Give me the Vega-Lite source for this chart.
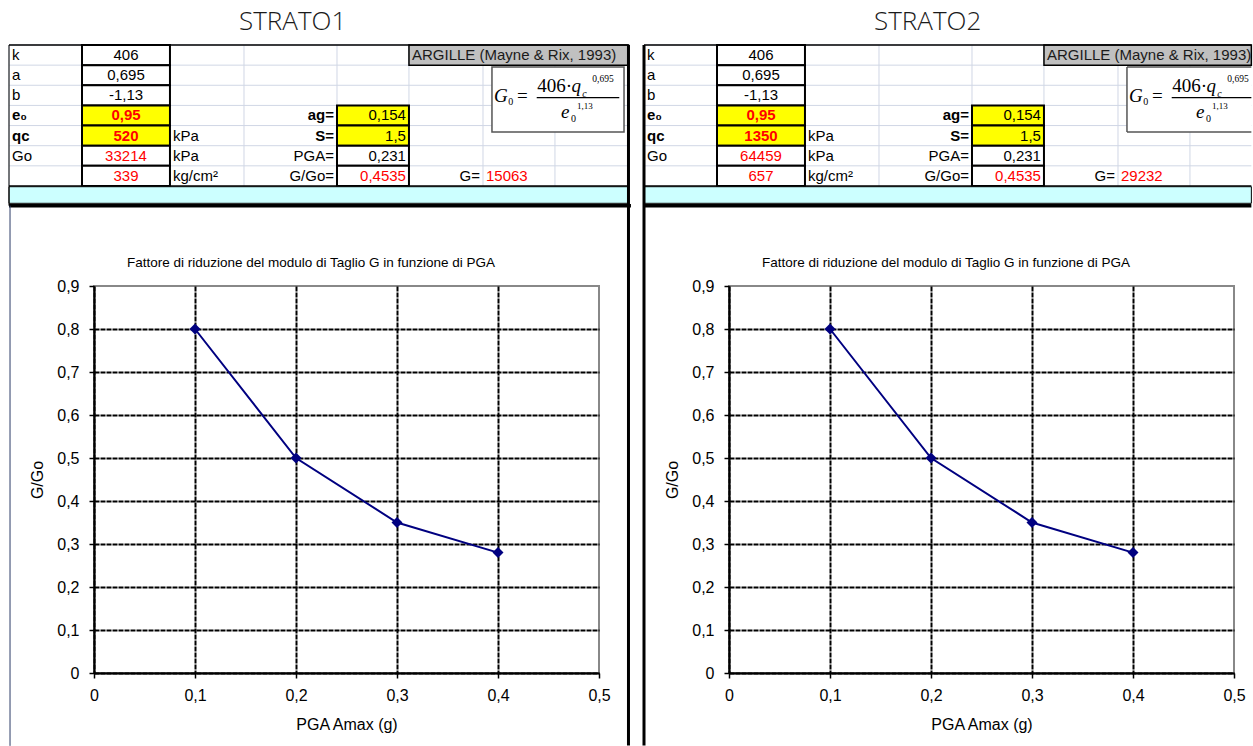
{
"$schema": "https://vega.github.io/schema/vega-lite/v6.json",
"padding": 0,
"background": "white",
"bounds": "flush",
"spacing": 130,
"datasets": {
"columns": [
{"col":"A","start":0,"mid":0.5,"end":1},
{"col":"B","start":1,"mid":1.6025,"end":2.205},
{"col":"C","start":2.205,"mid":2.712,"end":3.219},
{"col":"D","start":3.219,"mid":3.856,"end":4.493},
{"col":"E","start":4.493,"mid":4.986,"end":5.479},
{"col":"F","start":5.479,"mid":5.986,"end":6.493},
{"col":"G","start":6.493,"mid":6.986,"end":7.479},
{"col":"H","start":7.479,"mid":7.986,"end":8.493}
],
"rows": [
{"row":1,"top":0.5,"bottom":1.5},{"row":2,"top":1.5,"bottom":2.5},{"row":3,"top":2.5,"bottom":3.5},{"row":4,"top":3.5,"bottom":4.5},{"row":5,"top":4.5,"bottom":5.5},{"row":6,"top":5.5,"bottom":6.5},{"row":7,"top":6.5,"bottom":7.5}
],
"cells1": [
{"row":1,"col":"A","text":"k","kind":"label"},
{"row":1,"col":"B","text":"406","kind":"param"},
{"row":2,"col":"A","text":"a","kind":"label"},
{"row":2,"col":"B","text":"0,695","kind":"param"},
{"row":3,"col":"A","text":"b","kind":"label"},
{"row":3,"col":"B","text":"-1,13","kind":"param"},
{"row":4,"col":"A","text":"e₀","kind":"labelBold"},
{"row":4,"col":"B","text":"0,95","kind":"input"},
{"row":4,"col":"D","text":"ag=","kind":"eqBold"},
{"row":4,"col":"E","text":"0,154","kind":"inputR"},
{"row":5,"col":"A","text":"qc","kind":"labelBold"},
{"row":5,"col":"B","text":"520","kind":"input"},
{"row":5,"col":"C","text":"kPa","kind":"label"},
{"row":5,"col":"D","text":"S=","kind":"eqBold"},
{"row":5,"col":"E","text":"1,5","kind":"inputR"},
{"row":6,"col":"A","text":"Go","kind":"label"},
{"row":6,"col":"B","text":"33214","kind":"result"},
{"row":6,"col":"C","text":"kPa","kind":"label"},
{"row":6,"col":"D","text":"PGA=","kind":"eq"},
{"row":6,"col":"E","text":"0,231","kind":"valueR"},
{"row":7,"col":"B","text":"339","kind":"result"},
{"row":7,"col":"C","text":"kg/cm²","kind":"label"},
{"row":7,"col":"D","text":"G/Go=","kind":"eq"},
{"row":7,"col":"E","text":"0,4535","kind":"resultR"},
{"row":7,"col":"F","text":"G=","kind":"eq"},
{"row":7,"col":"G","text":"15063","kind":"resultL"}
],
"cells2": [
{"row":1,"col":"A","text":"k","kind":"label"},
{"row":1,"col":"B","text":"406","kind":"param"},
{"row":2,"col":"A","text":"a","kind":"label"},
{"row":2,"col":"B","text":"0,695","kind":"param"},
{"row":3,"col":"A","text":"b","kind":"label"},
{"row":3,"col":"B","text":"-1,13","kind":"param"},
{"row":4,"col":"A","text":"e₀","kind":"labelBold"},
{"row":4,"col":"B","text":"0,95","kind":"input"},
{"row":4,"col":"D","text":"ag=","kind":"eqBold"},
{"row":4,"col":"E","text":"0,154","kind":"inputR"},
{"row":5,"col":"A","text":"qc","kind":"labelBold"},
{"row":5,"col":"B","text":"1350","kind":"input"},
{"row":5,"col":"C","text":"kPa","kind":"label"},
{"row":5,"col":"D","text":"S=","kind":"eqBold"},
{"row":5,"col":"E","text":"1,5","kind":"inputR"},
{"row":6,"col":"A","text":"Go","kind":"label"},
{"row":6,"col":"B","text":"64459","kind":"result"},
{"row":6,"col":"C","text":"kPa","kind":"label"},
{"row":6,"col":"D","text":"PGA=","kind":"eq"},
{"row":6,"col":"E","text":"0,231","kind":"valueR"},
{"row":7,"col":"B","text":"657","kind":"result"},
{"row":7,"col":"C","text":"kg/cm²","kind":"label"},
{"row":7,"col":"D","text":"G/Go=","kind":"eq"},
{"row":7,"col":"E","text":"0,4535","kind":"resultR"},
{"row":7,"col":"F","text":"G=","kind":"eq"},
{"row":7,"col":"G","text":"29232","kind":"resultL"}
],
"curve": [
{"strato":"STRATO1","pga":0.1,"gg0":0.8},
{"strato":"STRATO1","pga":0.2,"gg0":0.5},
{"strato":"STRATO1","pga":0.3,"gg0":0.35},
{"strato":"STRATO1","pga":0.4,"gg0":0.28},
{"strato":"STRATO2","pga":0.1,"gg0":0.8},
{"strato":"STRATO2","pga":0.2,"gg0":0.5},
{"strato":"STRATO2","pga":0.3,"gg0":0.35},
{"strato":"STRATO2","pga":0.4,"gg0":0.28}
]
},
"hconcat": [
{
"width": 505,
"height": 387,
"resolve": {"scale": {"x": "independent", "y": "independent"}},
"layer": [
{
"data": {"name": "curve"},
"transform": [{"filter": {"field": "strato", "equal": "STRATO1"}}],
"layer": [
{"mark": {"type": "line", "color": "#000080", "strokeWidth": 2},
"encoding": {
"x": {"field": "pga", "type": "quantitative", "scale": {"domain": [0, 0.5], "nice": false, "zero": false},
"axis": {"orient": "bottom", "values": [0, 0.1, 0.2, 0.3, 0.4, 0.5], "format": ".1~f", "title": "PGA Amax (g)", "labelPadding": 9, "titlePadding": 13,
"gridColor": {"condition": {"test": "datum.value > 0.45", "value": "transparent"}, "value": "#000000"}}},
"y": {"field": "gg0", "type": "quantitative", "scale": {"domain": [0, 0.9], "nice": false, "zero": false},
"axis": {"orient": "left", "values": [0, 0.1, 0.2, 0.3, 0.4, 0.5, 0.6, 0.7, 0.8, 0.9], "format": ".1~f", "title": "G/Go", "labelPadding": 10, "titlePadding": 11,
"gridColor": {"condition": {"test": "datum.value > 0.85", "value": "transparent"}, "value": "#000000"}}}}},
{"mark": {"type": "point", "shape": "diamond", "filled": true, "color": "#000080", "size": 120, "opacity": 1},
"encoding": {"x": {"field": "pga", "type": "quantitative"}, "y": {"field": "gg0", "type": "quantitative"}}}
]
},
{
"data": {"values": [{}]},
"layer": [
{"data": {"name": "columns"}, "mark": {"type": "rule", "color": "#d0d7e5", "strokeWidth": 1, "clip": false},
"encoding": {"x": {"field": "start", "type": "quantitative", "axis": null, "scale": {"domain": [1.16438, 8.08219], "nice": false, "zero": false}},
"y": {"datum": 0.5, "type": "quantitative", "axis": null, "scale": {"domain": [12.4662, 31.6817], "nice": false, "zero": false, "reverse": true}},
"y2": {"datum": 7.5}}},
{"data": {"name": "rows"}, "mark": {"type": "rule", "color": "#d0d7e5", "strokeWidth": 1, "clip": false},
"encoding": {"y": {"field": "top", "type": "quantitative", "axis": null}, "x": {"datum": 0, "type": "quantitative", "axis": null}, "x2": {"datum": 8.486}}},
{"mark": {"type": "rect", "fill": "#c0c0c0", "stroke": "#000000", "strokeWidth": 1.5, "clip": false},
"encoding": {"x": {"datum": 5.479, "type": "quantitative", "axis": null}, "x2": {"datum": 8.486}, "y": {"datum": 0.5, "type": "quantitative", "axis": null}, "y2": {"datum": 1.5}}},
{"data": {"name": "cells1"},
"transform": [{"filter": {"field": "kind", "oneOf": ["param", "input", "result", "inputR", "valueR", "resultR"]}},
{"lookup": "col", "from": {"data": {"name": "columns"}, "key": "col", "fields": ["start", "end"]}},
{"lookup": "row", "from": {"data": {"name": "rows"}, "key": "row", "fields": ["top", "bottom"]}}],
"mark": {"type": "rect", "stroke": "#000000", "strokeWidth": 2, "clip": false},
"encoding": {"x": {"field": "start", "type": "quantitative", "axis": null}, "x2": {"field": "end"},
"y": {"field": "top", "type": "quantitative", "axis": null}, "y2": {"field": "bottom"},
"fill": {"field": "kind", "type": "nominal", "legend": null, "scale": {"domain": ["param", "input", "result", "inputR", "valueR", "resultR"], "range": ["#ffffff", "#ffff00", "#ffffff", "#ffff00", "#ffffff", "#ffffff"]}}}},
{"mark": {"type": "rect", "fill": "#ffffff", "stroke": "#555555", "strokeWidth": 1.5, "clip": false},
"encoding": {"x": {"datum": 6.616, "type": "quantitative", "axis": null}, "x2": {"datum": 8.425}, "y": {"datum": 1.592, "type": "quantitative", "axis": null}, "y2": {"datum": 4.82}}},
{"mark": {"type": "rule", "color": "#000000", "strokeWidth": 1.5, "clip": false},
"encoding": {"y": {"datum": 0.5, "type": "quantitative", "axis": null}, "x": {"datum": 0, "type": "quantitative", "axis": null}, "x2": {"datum": 8.486}}},
{"mark": {"type": "rule", "color": "#000000", "strokeWidth": 1.5, "clip": false},
"encoding": {"y": {"datum": 7.5, "type": "quantitative", "axis": null}, "x": {"datum": 0, "type": "quantitative", "axis": null}, "x2": {"datum": 8.486}}},
{"mark": {"type": "rect", "fill": "#ccffff", "stroke": "#000000", "strokeWidth": 1, "clip": false},
"encoding": {"x": {"datum": 0, "type": "quantitative", "axis": null}, "x2": {"datum": 8.486}, "y": {"datum": 7.536, "type": "quantitative", "axis": null}, "y2": {"datum": 8.36}}},
{"mark": {"type": "rule", "color": "#000000", "strokeWidth": 3.5, "clip": false},
"encoding": {"y": {"datum": 8.479, "type": "quantitative", "axis": null}, "x": {"datum": 0, "type": "quantitative", "axis": null}, "x2": {"datum": 8.52}}},
{"mark": {"type": "rule", "color": "#000000", "strokeWidth": 3, "clip": false},
"encoding": {"x": {"datum": 8.486, "type": "quantitative", "axis": null}, "y": {"datum": 0.5, "type": "quantitative", "axis": null}, "y2": {"datum": 35.28}}},
{"mark": {"type": "rule", "color": "#000000", "strokeWidth": 1, "clip": false},
"encoding": {"x": {"datum": 0, "type": "quantitative", "axis": null}, "y": {"datum": 0.5, "type": "quantitative", "axis": null}, "y2": {"datum": 8.479}}},
{"mark": {"type": "rule", "color": "#2b3a67", "strokeWidth": 1, "clip": false},
"encoding": {"x": {"datum": 0.014, "type": "quantitative", "axis": null}, "y": {"datum": 8.479, "type": "quantitative", "axis": null}, "y2": {"datum": 35.3}}},
{"data": {"name": "cells1"},
"transform": [{"filter": {"field": "kind", "oneOf": ["label", "resultL"]}}, {"lookup": "col", "from": {"data": {"name": "columns"}, "key": "col", "fields": ["start", "mid", "end"]}}],
"mark": {"type": "text", "align": "left", "baseline": "middle", "dx": 3, "fontSize": 15, "font": "Liberation Sans", "clip": false},
"encoding": {"x": {"field": "start", "type": "quantitative", "axis": null}, "y": {"field": "row", "type": "quantitative", "axis": null}, "text": {"field": "text"},
"color": {"field": "kind", "type": "nominal", "legend": null, "scale": {"domain": ["label", "labelBold", "param", "input", "result", "eq", "eqBold", "inputR", "valueR", "resultR", "resultL"], "range": ["#000000", "#000000", "#000000", "#ff0000", "#ff0000", "#000000", "#000000", "#000000", "#000000", "#ff0000", "#ff0000"]}}}},
{"data": {"name": "cells1"},
"transform": [{"filter": {"field": "kind", "oneOf": ["labelBold"]}}, {"lookup": "col", "from": {"data": {"name": "columns"}, "key": "col", "fields": ["start", "mid", "end"]}}],
"mark": {"type": "text", "align": "left", "baseline": "middle", "dx": 3, "fontSize": 15, "fontWeight": "bold", "font": "Liberation Sans", "clip": false},
"encoding": {"x": {"field": "start", "type": "quantitative", "axis": null}, "y": {"field": "row", "type": "quantitative", "axis": null}, "text": {"field": "text"}, "color": {"field": "kind", "type": "nominal", "legend": null}}},
{"data": {"name": "cells1"},
"transform": [{"filter": {"field": "kind", "oneOf": ["param", "result"]}}, {"lookup": "col", "from": {"data": {"name": "columns"}, "key": "col", "fields": ["start", "mid", "end"]}}],
"mark": {"type": "text", "align": "center", "baseline": "middle", "fontSize": 15, "font": "Liberation Sans", "clip": false},
"encoding": {"x": {"field": "mid", "type": "quantitative", "axis": null}, "y": {"field": "row", "type": "quantitative", "axis": null}, "text": {"field": "text"}, "color": {"field": "kind", "type": "nominal", "legend": null}}},
{"data": {"name": "cells1"},
"transform": [{"filter": {"field": "kind", "oneOf": ["input"]}}, {"lookup": "col", "from": {"data": {"name": "columns"}, "key": "col", "fields": ["start", "mid", "end"]}}],
"mark": {"type": "text", "align": "center", "baseline": "middle", "fontSize": 15, "fontWeight": "bold", "font": "Liberation Sans", "clip": false},
"encoding": {"x": {"field": "mid", "type": "quantitative", "axis": null}, "y": {"field": "row", "type": "quantitative", "axis": null}, "text": {"field": "text"}, "color": {"field": "kind", "type": "nominal", "legend": null}}},
{"data": {"name": "cells1"},
"transform": [{"filter": {"field": "kind", "oneOf": ["eq", "inputR", "valueR", "resultR"]}}, {"lookup": "col", "from": {"data": {"name": "columns"}, "key": "col", "fields": ["start", "mid", "end"]}}],
"mark": {"type": "text", "align": "right", "baseline": "middle", "dx": -3, "fontSize": 15, "font": "Liberation Sans", "clip": false},
"encoding": {"x": {"field": "end", "type": "quantitative", "axis": null}, "y": {"field": "row", "type": "quantitative", "axis": null}, "text": {"field": "text"}, "color": {"field": "kind", "type": "nominal", "legend": null}}},
{"data": {"name": "cells1"},
"transform": [{"filter": {"field": "kind", "oneOf": ["eqBold"]}}, {"lookup": "col", "from": {"data": {"name": "columns"}, "key": "col", "fields": ["start", "mid", "end"]}}],
"mark": {"type": "text", "align": "right", "baseline": "middle", "dx": -3, "fontSize": 15, "fontWeight": "bold", "font": "Liberation Sans", "clip": false},
"encoding": {"x": {"field": "end", "type": "quantitative", "axis": null}, "y": {"field": "row", "type": "quantitative", "axis": null}, "text": {"field": "text"}, "color": {"field": "kind", "type": "nominal", "legend": null}}},
{"mark": {"type": "text", "align": "left", "baseline": "middle", "dx": 3, "fontSize": 15, "font": "Liberation Sans", "color": "#1a1a1a", "clip": false},
"encoding": {"x": {"datum": 5.479, "type": "quantitative", "axis": null}, "y": {"datum": 1, "type": "quantitative", "axis": null}, "text": {"value": "ARGILLE (Mayne & Rix, 1993)"}}},
{"mark": {"type": "text", "font": "Liberation Serif", "fontSize": 19, "fontStyle": "italic", "align": "left", "baseline": "alphabetic", "color": "#000000", "clip": false},
"encoding": {"x": {"datum": 6.645, "type": "quantitative", "axis": null}, "y": {"datum": 3.345, "type": "quantitative", "axis": null}, "text": {"value": "G"}}},
{"mark": {"type": "text", "font": "Liberation Serif", "fontSize": 10, "align": "left", "baseline": "alphabetic", "color": "#000000", "clip": false},
"encoding": {"x": {"datum": 6.84, "type": "quantitative", "axis": null}, "y": {"datum": 3.479, "type": "quantitative", "axis": null}, "text": {"value": "0"}}},
{"mark": {"type": "text", "font": "Liberation Serif", "fontSize": 19, "align": "left", "baseline": "alphabetic", "color": "#000000", "clip": false},
"encoding": {"x": {"datum": 6.96, "type": "quantitative", "axis": null}, "y": {"datum": 3.31, "type": "quantitative", "axis": null}, "text": {"value": "="}}},
{"mark": {"type": "text", "font": "Liberation Serif", "fontSize": 19, "align": "left", "baseline": "alphabetic", "color": "#000000", "clip": false},
"encoding": {"x": {"datum": 7.235, "type": "quantitative", "axis": null}, "y": {"datum": 2.819, "type": "quantitative", "axis": null}, "text": {"value": "406·"}}},
{"mark": {"type": "text", "font": "Liberation Serif", "fontSize": 19, "fontStyle": "italic", "align": "left", "baseline": "alphabetic", "color": "#000000", "clip": false},
"encoding": {"x": {"datum": 7.705, "type": "quantitative", "axis": null}, "y": {"datum": 2.819, "type": "quantitative", "axis": null}, "text": {"value": "q"}}},
{"mark": {"type": "text", "font": "Liberation Serif", "fontSize": 10, "fontStyle": "italic", "align": "left", "baseline": "alphabetic", "color": "#000000", "clip": false},
"encoding": {"x": {"datum": 7.852, "type": "quantitative", "axis": null}, "y": {"datum": 3.067, "type": "quantitative", "axis": null}, "text": {"value": "c"}}},
{"mark": {"type": "text", "font": "Liberation Serif", "fontSize": 9.5, "align": "left", "baseline": "alphabetic", "color": "#000000", "clip": false},
"encoding": {"x": {"datum": 7.99, "type": "quantitative", "axis": null}, "y": {"datum": 2.322, "type": "quantitative", "axis": null}, "text": {"value": "0,695"}}},
{"mark": {"type": "rule", "color": "#000000", "strokeWidth": 1.2, "clip": false},
"encoding": {"y": {"datum": 3.117, "type": "quantitative", "axis": null}, "x": {"datum": 7.229, "type": "quantitative", "axis": null}, "x2": {"datum": 8.36}}},
{"mark": {"type": "text", "font": "Liberation Serif", "fontSize": 19, "fontStyle": "italic", "align": "left", "baseline": "alphabetic", "color": "#000000", "clip": false},
"encoding": {"x": {"datum": 7.562, "type": "quantitative", "axis": null}, "y": {"datum": 4.139, "type": "quantitative", "axis": null}, "text": {"value": "e"}}},
{"mark": {"type": "text", "font": "Liberation Serif", "fontSize": 10, "align": "left", "baseline": "alphabetic", "color": "#000000", "clip": false},
"encoding": {"x": {"datum": 7.7, "type": "quantitative", "axis": null}, "y": {"datum": 4.308, "type": "quantitative", "axis": null}, "text": {"value": "0"}}},
{"mark": {"type": "text", "font": "Liberation Serif", "fontSize": 9, "align": "left", "baseline": "alphabetic", "color": "#000000", "clip": false},
"encoding": {"x": {"datum": 7.78, "type": "quantitative", "axis": null}, "y": {"datum": 3.678, "type": "quantitative", "axis": null}, "text": {"value": "1,13"}}},
{"mark": {"type": "text", "font": "Open Sans", "fontSize": 26, "fontWeight": 300, "align": "center", "baseline": "middle", "color": "#1a1a1a", "clip": false},
"encoding": {"x": {"datum": 3.885, "type": "quantitative", "axis": null}, "y": {"datum": -0.66, "type": "quantitative", "axis": null}, "text": {"value": "STRATO1"}}},
{"mark": {"type": "text", "font": "Liberation Sans", "fontSize": 13.5, "align": "center", "baseline": "middle", "color": "#000000", "clip": false},
"encoding": {"x": {"datum": 4.137, "type": "quantitative", "axis": null}, "y": {"datum": 11.32, "type": "quantitative", "axis": null}, "text": {"value": "Fattore di riduzione del modulo di Taglio G in funzione di PGA"}}},
{"mark": {"type": "rect", "opacity": 0, "clip": false},
"encoding": {"x": {"datum": -0.10959, "type": "quantitative", "axis": null}, "x2": {"datum": 8.52}, "y": {"datum": -1.6847, "type": "quantitative", "axis": null}, "y2": {"datum": 35.355}}}
]
}
]
},
{
"width": 505,
"height": 387,
"resolve": {"scale": {"x": "independent", "y": "independent"}},
"layer": [
{
"data": {"name": "curve"},
"transform": [{"filter": {"field": "strato", "equal": "STRATO2"}}],
"layer": [
{"mark": {"type": "line", "color": "#000080", "strokeWidth": 2},
"encoding": {
"x": {"field": "pga", "type": "quantitative", "scale": {"domain": [0, 0.5], "nice": false, "zero": false},
"axis": {"orient": "bottom", "values": [0, 0.1, 0.2, 0.3, 0.4, 0.5], "format": ".1~f", "title": "PGA Amax (g)", "labelPadding": 9, "titlePadding": 13,
"gridColor": {"condition": {"test": "datum.value > 0.45", "value": "transparent"}, "value": "#000000"}}},
"y": {"field": "gg0", "type": "quantitative", "scale": {"domain": [0, 0.9], "nice": false, "zero": false},
"axis": {"orient": "left", "values": [0, 0.1, 0.2, 0.3, 0.4, 0.5, 0.6, 0.7, 0.8, 0.9], "format": ".1~f", "title": "G/Go", "labelPadding": 10, "titlePadding": 11,
"gridColor": {"condition": {"test": "datum.value > 0.85", "value": "transparent"}, "value": "#000000"}}}}},
{"mark": {"type": "point", "shape": "diamond", "filled": true, "color": "#000080", "size": 120, "opacity": 1},
"encoding": {"x": {"field": "pga", "type": "quantitative"}, "y": {"field": "gg0", "type": "quantitative"}}}
]
},
{
"data": {"values": [{}]},
"layer": [
{"data": {"name": "columns"}, "mark": {"type": "rule", "color": "#d0d7e5", "strokeWidth": 1, "clip": false},
"encoding": {"x": {"field": "start", "type": "quantitative", "axis": null, "scale": {"domain": [1.16438, 8.08219], "nice": false, "zero": false}},
"y": {"datum": 0.5, "type": "quantitative", "axis": null, "scale": {"domain": [12.4662, 31.6817], "nice": false, "zero": false, "reverse": true}},
"y2": {"datum": 7.5}}},
{"data": {"name": "rows"}, "mark": {"type": "rule", "color": "#d0d7e5", "strokeWidth": 1, "clip": false},
"encoding": {"y": {"field": "top", "type": "quantitative", "axis": null}, "x": {"datum": 0, "type": "quantitative", "axis": null}, "x2": {"datum": 8.32}}},
{"mark": {"type": "rect", "fill": "#c0c0c0", "stroke": "#000000", "strokeWidth": 1.5, "clip": false},
"encoding": {"x": {"datum": 5.479, "type": "quantitative", "axis": null}, "x2": {"datum": 8.32}, "y": {"datum": 0.5, "type": "quantitative", "axis": null}, "y2": {"datum": 1.5}}},
{"data": {"name": "cells2"},
"transform": [{"filter": {"field": "kind", "oneOf": ["param", "input", "result", "inputR", "valueR", "resultR"]}},
{"lookup": "col", "from": {"data": {"name": "columns"}, "key": "col", "fields": ["start", "end"]}},
{"lookup": "row", "from": {"data": {"name": "rows"}, "key": "row", "fields": ["top", "bottom"]}}],
"mark": {"type": "rect", "stroke": "#000000", "strokeWidth": 2, "clip": false},
"encoding": {"x": {"field": "start", "type": "quantitative", "axis": null}, "x2": {"field": "end"},
"y": {"field": "top", "type": "quantitative", "axis": null}, "y2": {"field": "bottom"},
"fill": {"field": "kind", "type": "nominal", "legend": null}}},
{"mark": {"type": "rect", "fill": "#ffffff", "clip": false},
"encoding": {"x": {"datum": 6.616, "type": "quantitative", "axis": null}, "x2": {"datum": 8.32}, "y": {"datum": 1.592, "type": "quantitative", "axis": null}, "y2": {"datum": 4.82}}},
{"mark": {"type": "rule", "color": "#555555", "strokeWidth": 1.5, "clip": false},
"encoding": {"y": {"datum": 1.592, "type": "quantitative", "axis": null}, "x": {"datum": 6.616, "type": "quantitative", "axis": null}, "x2": {"datum": 8.32}}},
{"mark": {"type": "rule", "color": "#555555", "strokeWidth": 1.5, "clip": false},
"encoding": {"y": {"datum": 4.82, "type": "quantitative", "axis": null}, "x": {"datum": 6.616, "type": "quantitative", "axis": null}, "x2": {"datum": 8.32}}},
{"mark": {"type": "rule", "color": "#555555", "strokeWidth": 1.5, "clip": false},
"encoding": {"x": {"datum": 6.616, "type": "quantitative", "axis": null}, "y": {"datum": 1.592, "type": "quantitative", "axis": null}, "y2": {"datum": 4.82}}},
{"mark": {"type": "rule", "color": "#000000", "strokeWidth": 1.5, "clip": false},
"encoding": {"y": {"datum": 0.5, "type": "quantitative", "axis": null}, "x": {"datum": 0, "type": "quantitative", "axis": null}, "x2": {"datum": 8.32}}},
{"mark": {"type": "rule", "color": "#000000", "strokeWidth": 1.5, "clip": false},
"encoding": {"y": {"datum": 7.5, "type": "quantitative", "axis": null}, "x": {"datum": 0, "type": "quantitative", "axis": null}, "x2": {"datum": 8.32}}},
{"mark": {"type": "rect", "fill": "#ccffff", "stroke": "#000000", "strokeWidth": 1, "clip": false},
"encoding": {"x": {"datum": 0, "type": "quantitative", "axis": null}, "x2": {"datum": 8.32}, "y": {"datum": 7.536, "type": "quantitative", "axis": null}, "y2": {"datum": 8.36}}},
{"mark": {"type": "rule", "color": "#000000", "strokeWidth": 3.5, "clip": false},
"encoding": {"y": {"datum": 8.479, "type": "quantitative", "axis": null}, "x": {"datum": 0, "type": "quantitative", "axis": null}, "x2": {"datum": 8.32}}},
{"mark": {"type": "rule", "color": "#000000", "strokeWidth": 3, "clip": false},
"encoding": {"x": {"datum": 0, "type": "quantitative", "axis": null}, "y": {"datum": 0.5, "type": "quantitative", "axis": null}, "y2": {"datum": 35.28}}},
{"data": {"name": "cells2"},
"transform": [{"filter": {"field": "kind", "oneOf": ["label", "resultL"]}}, {"lookup": "col", "from": {"data": {"name": "columns"}, "key": "col", "fields": ["start", "mid", "end"]}}],
"mark": {"type": "text", "align": "left", "baseline": "middle", "dx": 3, "fontSize": 15, "font": "Liberation Sans", "clip": false},
"encoding": {"x": {"field": "start", "type": "quantitative", "axis": null}, "y": {"field": "row", "type": "quantitative", "axis": null}, "text": {"field": "text"}, "color": {"field": "kind", "type": "nominal", "legend": null}}},
{"data": {"name": "cells2"},
"transform": [{"filter": {"field": "kind", "oneOf": ["labelBold"]}}, {"lookup": "col", "from": {"data": {"name": "columns"}, "key": "col", "fields": ["start", "mid", "end"]}}],
"mark": {"type": "text", "align": "left", "baseline": "middle", "dx": 3, "fontSize": 15, "fontWeight": "bold", "font": "Liberation Sans", "clip": false},
"encoding": {"x": {"field": "start", "type": "quantitative", "axis": null}, "y": {"field": "row", "type": "quantitative", "axis": null}, "text": {"field": "text"}, "color": {"field": "kind", "type": "nominal", "legend": null}}},
{"data": {"name": "cells2"},
"transform": [{"filter": {"field": "kind", "oneOf": ["param", "result"]}}, {"lookup": "col", "from": {"data": {"name": "columns"}, "key": "col", "fields": ["start", "mid", "end"]}}],
"mark": {"type": "text", "align": "center", "baseline": "middle", "fontSize": 15, "font": "Liberation Sans", "clip": false},
"encoding": {"x": {"field": "mid", "type": "quantitative", "axis": null}, "y": {"field": "row", "type": "quantitative", "axis": null}, "text": {"field": "text"}, "color": {"field": "kind", "type": "nominal", "legend": null}}},
{"data": {"name": "cells2"},
"transform": [{"filter": {"field": "kind", "oneOf": ["input"]}}, {"lookup": "col", "from": {"data": {"name": "columns"}, "key": "col", "fields": ["start", "mid", "end"]}}],
"mark": {"type": "text", "align": "center", "baseline": "middle", "fontSize": 15, "fontWeight": "bold", "font": "Liberation Sans", "clip": false},
"encoding": {"x": {"field": "mid", "type": "quantitative", "axis": null}, "y": {"field": "row", "type": "quantitative", "axis": null}, "text": {"field": "text"}, "color": {"field": "kind", "type": "nominal", "legend": null}}},
{"data": {"name": "cells2"},
"transform": [{"filter": {"field": "kind", "oneOf": ["eq", "inputR", "valueR", "resultR"]}}, {"lookup": "col", "from": {"data": {"name": "columns"}, "key": "col", "fields": ["start", "mid", "end"]}}],
"mark": {"type": "text", "align": "right", "baseline": "middle", "dx": -3, "fontSize": 15, "font": "Liberation Sans", "clip": false},
"encoding": {"x": {"field": "end", "type": "quantitative", "axis": null}, "y": {"field": "row", "type": "quantitative", "axis": null}, "text": {"field": "text"}, "color": {"field": "kind", "type": "nominal", "legend": null}}},
{"data": {"name": "cells2"},
"transform": [{"filter": {"field": "kind", "oneOf": ["eqBold"]}}, {"lookup": "col", "from": {"data": {"name": "columns"}, "key": "col", "fields": ["start", "mid", "end"]}}],
"mark": {"type": "text", "align": "right", "baseline": "middle", "dx": -3, "fontSize": 15, "fontWeight": "bold", "font": "Liberation Sans", "clip": false},
"encoding": {"x": {"field": "end", "type": "quantitative", "axis": null}, "y": {"field": "row", "type": "quantitative", "axis": null}, "text": {"field": "text"}, "color": {"field": "kind", "type": "nominal", "legend": null}}},
{"mark": {"type": "text", "align": "left", "baseline": "middle", "dx": 3, "fontSize": 15, "font": "Liberation Sans", "color": "#1a1a1a", "clip": false},
"encoding": {"x": {"datum": 5.479, "type": "quantitative", "axis": null}, "y": {"datum": 1, "type": "quantitative", "axis": null}, "text": {"value": "ARGILLE (Mayne & Rix, 1993)"}}},
{"mark": {"type": "text", "font": "Liberation Serif", "fontSize": 19, "fontStyle": "italic", "align": "left", "baseline": "alphabetic", "color": "#000000", "clip": false},
"encoding": {"x": {"datum": 6.645, "type": "quantitative", "axis": null}, "y": {"datum": 3.345, "type": "quantitative", "axis": null}, "text": {"value": "G"}}},
{"mark": {"type": "text", "font": "Liberation Serif", "fontSize": 10, "align": "left", "baseline": "alphabetic", "color": "#000000", "clip": false},
"encoding": {"x": {"datum": 6.84, "type": "quantitative", "axis": null}, "y": {"datum": 3.479, "type": "quantitative", "axis": null}, "text": {"value": "0"}}},
{"mark": {"type": "text", "font": "Liberation Serif", "fontSize": 19, "align": "left", "baseline": "alphabetic", "color": "#000000", "clip": false},
"encoding": {"x": {"datum": 6.96, "type": "quantitative", "axis": null}, "y": {"datum": 3.31, "type": "quantitative", "axis": null}, "text": {"value": "="}}},
{"mark": {"type": "text", "font": "Liberation Serif", "fontSize": 19, "align": "left", "baseline": "alphabetic", "color": "#000000", "clip": false},
"encoding": {"x": {"datum": 7.235, "type": "quantitative", "axis": null}, "y": {"datum": 2.819, "type": "quantitative", "axis": null}, "text": {"value": "406·"}}},
{"mark": {"type": "text", "font": "Liberation Serif", "fontSize": 19, "fontStyle": "italic", "align": "left", "baseline": "alphabetic", "color": "#000000", "clip": false},
"encoding": {"x": {"datum": 7.705, "type": "quantitative", "axis": null}, "y": {"datum": 2.819, "type": "quantitative", "axis": null}, "text": {"value": "q"}}},
{"mark": {"type": "text", "font": "Liberation Serif", "fontSize": 10, "fontStyle": "italic", "align": "left", "baseline": "alphabetic", "color": "#000000", "clip": false},
"encoding": {"x": {"datum": 7.852, "type": "quantitative", "axis": null}, "y": {"datum": 3.067, "type": "quantitative", "axis": null}, "text": {"value": "c"}}},
{"mark": {"type": "text", "font": "Liberation Serif", "fontSize": 9.5, "align": "left", "baseline": "alphabetic", "color": "#000000", "clip": false},
"encoding": {"x": {"datum": 7.99, "type": "quantitative", "axis": null}, "y": {"datum": 2.322, "type": "quantitative", "axis": null}, "text": {"value": "0,695"}}},
{"mark": {"type": "rule", "color": "#000000", "strokeWidth": 1.2, "clip": false},
"encoding": {"y": {"datum": 3.117, "type": "quantitative", "axis": null}, "x": {"datum": 7.229, "type": "quantitative", "axis": null}, "x2": {"datum": 8.32}}},
{"mark": {"type": "text", "font": "Liberation Serif", "fontSize": 19, "fontStyle": "italic", "align": "left", "baseline": "alphabetic", "color": "#000000", "clip": false},
"encoding": {"x": {"datum": 7.562, "type": "quantitative", "axis": null}, "y": {"datum": 4.139, "type": "quantitative", "axis": null}, "text": {"value": "e"}}},
{"mark": {"type": "text", "font": "Liberation Serif", "fontSize": 10, "align": "left", "baseline": "alphabetic", "color": "#000000", "clip": false},
"encoding": {"x": {"datum": 7.7, "type": "quantitative", "axis": null}, "y": {"datum": 4.308, "type": "quantitative", "axis": null}, "text": {"value": "0"}}},
{"mark": {"type": "text", "font": "Liberation Serif", "fontSize": 9, "align": "left", "baseline": "alphabetic", "color": "#000000", "clip": false},
"encoding": {"x": {"datum": 7.78, "type": "quantitative", "axis": null}, "y": {"datum": 3.678, "type": "quantitative", "axis": null}, "text": {"value": "1,13"}}},
{"mark": {"type": "text", "font": "Open Sans", "fontSize": 26, "fontWeight": 300, "align": "center", "baseline": "middle", "color": "#1a1a1a", "clip": false},
"encoding": {"x": {"datum": 3.885, "type": "quantitative", "axis": null}, "y": {"datum": -0.66, "type": "quantitative", "axis": null}, "text": {"value": "STRATO2"}}},
{"mark": {"type": "text", "font": "Liberation Sans", "fontSize": 13.5, "align": "center", "baseline": "middle", "color": "#000000", "clip": false},
"encoding": {"x": {"datum": 4.137, "type": "quantitative", "axis": null}, "y": {"datum": 11.32, "type": "quantitative", "axis": null}, "text": {"value": "Fattore di riduzione del modulo di Taglio G in funzione di PGA"}}},
{"mark": {"type": "rect", "opacity": 0, "clip": false},
"encoding": {"x": {"datum": 0, "type": "quantitative", "axis": null}, "x2": {"datum": 8.355}, "y": {"datum": -1.6847, "type": "quantitative", "axis": null}, "y2": {"datum": 35.355}}}
]
}
]
}
],
"config": {
"locale": {"number": {"decimal": ",", "thousands": ".", "grouping": [3], "currency": ["€", ""]}},
"view": {"stroke": "#888888", "strokeWidth": 2},
"font": "Liberation Sans",
"axis": {
"labelFont": "Liberation Sans", "labelFontSize": 16, "labelColor": "#000000", "labelFlush": false,
"titleFont": "Liberation Sans", "titleFontSize": 16, "titleFontWeight": "normal", "titleColor": "#000000",
"domainColor": "#000000", "domainWidth": 2,
"tickColor": "#000000", "tickWidth": 1.5, "tickSize": 5,
"gridColor": "#000000", "gridWidth": 2, "gridDash": [5, 1], "gridOpacity": 1
}
}
}
